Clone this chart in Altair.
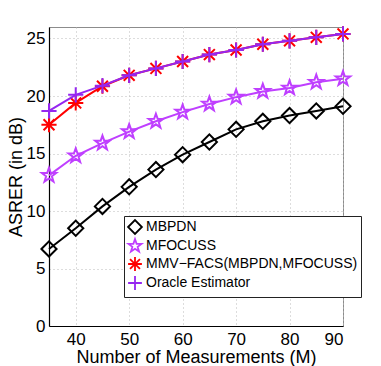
import altair as alt
import pandas as pd

M = [35, 40, 45, 50, 55, 60, 65, 70, 75, 80, 85, 90]
mbpdn = [6.7, 8.5, 10.4, 12.1, 13.6, 14.9, 16.0, 17.1, 17.8, 18.3, 18.7, 19.1]
mfocuss = [13.1, 14.8, 15.9, 16.9, 17.8, 18.6, 19.3, 19.9, 20.4, 20.7, 21.2, 21.5]
mmvfacs = [17.5, 19.4, 20.85, 21.8, 22.4, 23.0, 23.6, 24.0, 24.5, 24.8, 25.1, 25.4]
oracle = [18.7, 20.1, 20.9, 21.8, 22.4, 23.0, 23.6, 24.0, 24.5, 24.8, 25.1, 25.4]

names = ["MBPDN", "MFOCUSS", "MMV\u2212FACS(MBPDN,MFOCUSS)", "Oracle Estimator"]
series = [mbpdn, mfocuss, mmvfacs, oracle]
colors = ["#000000", "#BF3FFF", "#FF0000", "#9526F0"]

star = ("M0,-1L0.235,-0.324L0.951,-0.309L0.380,0.124L0.588,0.809L0,0.4"
        "L-0.588,0.809L-0.380,0.124L-0.951,-0.309L-0.235,-0.324Z")
asterisk = "M-1,0L1,0M0,-1L0,1M-0.72,-0.72L0.72,0.72M-0.72,0.72L0.72,-0.72"
plus = "M-1,0L1,0M0,-1L0,1"
shapes = ["diamond", star, asterisk, plus]

rows = []
for n, s in zip(names, series):
    for m, v in zip(M, s):
        rows.append({"M": m, "val": v, "series": n})
df = pd.DataFrame(rows)

font = "Liberation Sans"
xenc = alt.X("M:Q", scale=alt.Scale(domain=[35, 90], nice=False, zero=False),
             axis=alt.Axis(values=[40, 50, 60, 70, 80, 90], title="Number of Measurements (M)"))
yenc = alt.Y("val:Q", scale=alt.Scale(domain=[0, 26], nice=False),
             axis=alt.Axis(values=[0, 5, 10, 15, 20, 25], title="ASRER (in dB)"))
color = alt.Color("series:N", scale=alt.Scale(domain=names, range=colors),
                  legend=alt.Legend(title=None, orient="none", legendX=75, legendY=189,
                                    fillColor="white", strokeColor="#222",
                                    padding=3, labelFont=font, labelFontSize=14,
                                    labelLimit=400,
                                    symbolSize=190, symbolStrokeWidth=1.8,
                                    rowPadding=-6, labelOffset=3, labelColor="#000"))

layers = []
for n in names:
    sub = alt.Chart(df).transform_filter(alt.datum.series == n)
    layers.append(sub.mark_line(strokeWidth=2).encode(x=xenc, y=yenc, color=color))
    layers.append(sub.mark_point(filled=False, size=230, strokeWidth=2, opacity=1).encode(
        x=xenc, y=yenc, color=color,
        shape=alt.Shape("series:N", scale=alt.Scale(domain=names, range=shapes),
                        legend=alt.Legend(title=None))))

chart = alt.layer(*layers).properties(
    width=294, height=299,
    autosize=alt.AutoSizeParams(type="none"),
    padding={"left": 41, "top": 19, "right": 25, "bottom": 45},
).configure_view(stroke="#8c8c8c", strokeWidth=1).configure_axis(
    labelFont=font, labelFontSize=17, titleFont=font, titleFontSize=18,
    titleFontWeight="normal", labelColor="#000", titleColor="#000",
    ticks=False, domain=True, domainColor="#000", domainWidth=1.2,
    grid=True, gridColor="#bbbbbb", gridDash=[1, 3],
    gridWidth=1, labelPadding=4,
).configure_axisX(labelPadding=5, titlePadding=1).configure_axisY(titlePadding=1)

chart.save("out.html", embed_options={"renderer": "svg", "actions": False})
